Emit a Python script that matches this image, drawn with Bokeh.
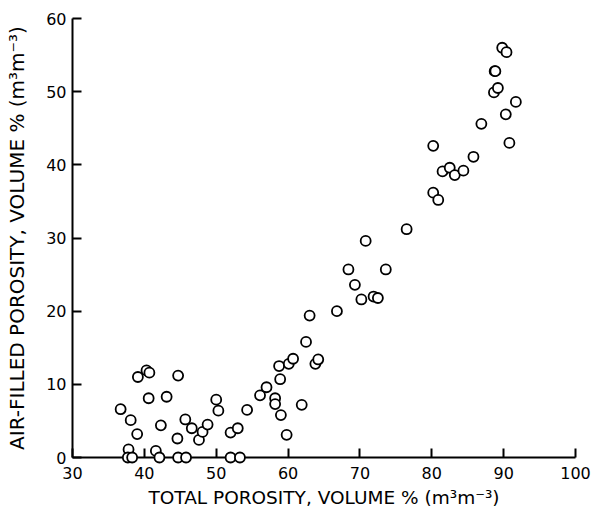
from bokeh.plotting import figure
from bokeh.models import Range1d, FixedTicker, ColumnDataSource
from bokeh.embed import file_html
from bokeh.resources import INLINE

total_porosity = [
    36.7, 38.1, 39.0, 39.1, 40.3, 40.7, 40.6, 43.1, 42.3, 44.7,
    44.6, 45.7, 46.6, 47.6, 48.1, 48.8, 50.0, 50.3, 52.0, 53.0,
    54.3, 56.1, 57.0, 58.2, 58.2, 58.9, 59.0, 59.8, 61.9, 58.75,
    60.1, 60.7, 62.5, 63.0, 63.8, 64.2, 66.8, 68.4, 69.3, 70.2,
    70.8, 71.9, 72.5, 73.6, 76.5, 80.2, 80.2, 80.9, 81.5, 82.5,
    83.2, 84.4, 85.8, 86.9, 88.65, 89.2, 88.75, 88.85, 89.8, 90.4,
    91.7, 90.3, 90.8,
    37.8, 37.7, 38.3, 41.6, 42.1, 44.7, 45.8, 52.0, 53.3,
]
air_filled_porosity = [
    6.6, 5.1, 3.2, 11.0, 11.9, 11.6, 8.1, 8.3, 4.4, 11.2,
    2.6, 5.2, 4.0, 2.4, 3.5, 4.5, 7.9, 6.4, 3.4, 4.0,
    6.5, 8.5, 9.6, 8.1, 7.3, 10.7, 5.8, 3.1, 7.2, 12.5,
    12.8, 13.5, 15.8, 19.4, 12.8, 13.4, 20.0, 25.7, 23.6, 21.6,
    29.6, 22.0, 21.8, 25.7, 31.2, 42.6, 36.2, 35.2, 39.1, 39.6,
    38.6, 39.2, 41.1, 45.6, 49.9, 50.5, 52.8, 52.8, 56.0, 55.4,
    48.6, 46.9, 43.0,
    1.1, 0.0, 0.0, 0.9, 0.0, 0.0, 0.0, 0.0, 0.0,
]
x_ticks = [30, 40, 50, 60, 70, 80, 90, 100]
y_ticks = [0, 10, 20, 30, 40, 50, 60]
x_label = "TOTAL POROSITY, VOLUME % (m\u00b3m\u207b\u00b3)"
y_label = "AIR-FILLED POROSITY, VOLUME % (m\u00b3m\u207b\u00b3)"

FONT = "DejaVu Sans"

p = figure(width=592, height=516, output_backend="svg", toolbar_location=None,
           x_range=Range1d(30, 100), y_range=Range1d(0, 60))
p.min_border_left = 72
p.min_border_right = 17
p.min_border_top = 18
p.min_border_bottom = 59
p.outline_line_color = None
p.grid.visible = False
p.background_fill_color = "white"
p.border_fill_color = "white"

src = ColumnDataSource(dict(x=total_porosity, y=air_filled_porosity))
r = p.scatter("x", "y", source=src, size=10, marker="circle",
              fill_color="white", line_color="black", line_width=1.8)
r.level = "overlay"

xa = p.xaxis[0]
ya = p.yaxis[0]
xa.ticker = FixedTicker(ticks=x_ticks)
ya.ticker = FixedTicker(ticks=y_ticks)
for ax in (xa, ya):
    ax.axis_line_width = 2
    ax.axis_line_color = "black"
    ax.major_tick_line_width = 2
    ax.major_tick_line_color = "black"
    ax.major_tick_in = 9
    ax.major_tick_out = 0
    ax.minor_tick_line_color = None
    ax.major_label_text_font = FONT
    ax.major_label_text_font_size = "16px"
    ax.major_label_text_color = "black"
    ax.axis_label_text_font = FONT
    ax.axis_label_text_font_style = "normal"
    ax.axis_label_text_color = "black"
xa.axis_label = x_label
ya.axis_label = y_label
xa.axis_label_text_font_size = "18.5px"
ya.axis_label_text_font_size = "20px"
xa.major_label_standoff = 9
ya.major_label_standoff = 6
xa.axis_label_standoff = 5
ya.axis_label_standoff = 14

open("out.html", "w").write(file_html(p, INLINE))
